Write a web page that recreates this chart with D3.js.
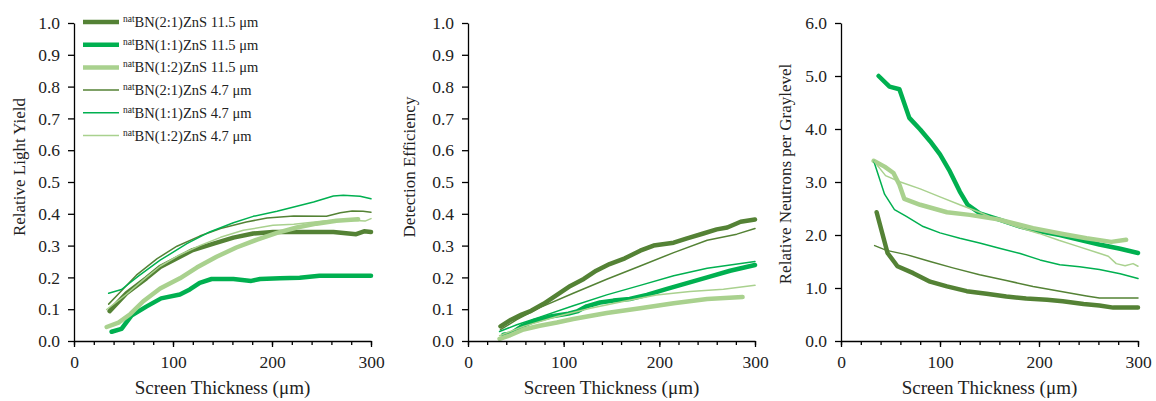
<!DOCTYPE html>
<html>
<head>
<meta charset="utf-8">
<script src="https://cdn.jsdelivr.net/npm/d3@7"></script>
<style>
  body { margin: 0; background: #fff; }
  svg { display: block; font-family: "Liberation Serif", "Times New Roman", serif; }
  .axis path, .axis line { stroke: #000; stroke-width: 1.3; }
  .axis text { font-size: 17.5px; fill: #222; font-family: "Liberation Serif", serif; }
  .title { font-size: 19px; fill: #222; }
  .ytitle { font-size: 17px; fill: #222; }
</style>
</head>
<body>
<svg id="chart" width="1156" height="401"></svg>
<script>
// series names and colours
var seriesNames = ["BN(2:1)ZnS 11.5 \u03bcm", "BN(1:1)ZnS 11.5 \u03bcm", "BN(1:2)ZnS 11.5 \u03bcm",
                   "BN(2:1)ZnS 4.7 \u03bcm", "BN(1:1)ZnS 4.7 \u03bcm", "BN(1:2)ZnS 4.7 \u03bcm"];
var seriesColors = ["#548235", "#00b050", "#a9d18e", "#548235", "#00b050", "#a9d18e"];
var seriesWidths = [4.5, 4.5, 4.5, 1.5, 1.5, 1.5];

var xTicksMajor = [0, 100, 200, 300];
var yTicksFraction = [0, 0.1, 0.2, 0.3, 0.4, 0.5, 0.6, 0.7, 0.8, 0.9, 1.0];
var yTicksNeutron = [0, 1, 2, 3, 4, 5, 6];

// Relative light yield  [thickness um, value]
var lyDark115 = [[36,0.094],[53,0.15],[73,0.197],[87,0.233],[105,0.262],[120,0.286],[141,0.306],[161,0.325],[181,0.338],[201,0.343],[222,0.343],[242,0.343],[262,0.343],[285,0.336],[293,0.345],[300,0.343]];
var lyBright115 = [[38,0.029],[48,0.038],[58,0.08],[73,0.108],[88,0.134],[107,0.146],[117,0.162],[127,0.183],[139,0.195],[161,0.195],[179,0.189],[188,0.195],[208,0.197],[228,0.199],[248,0.205],[269,0.205],[300,0.205]];
var lyLight115 = [[33,0.044],[45,0.058],[57,0.085],[70,0.125],[87,0.165],[107,0.197],[124,0.231],[144,0.265],[164,0.294],[185,0.319],[205,0.34],[225,0.357],[245,0.369],[265,0.378],[287,0.383]];
var lyDark47 = [[35,0.116],[47,0.155],[63,0.207],[84,0.259],[104,0.298],[127,0.33],[148,0.354],[174,0.374],[195,0.387],[222,0.393],[255,0.392],[269,0.403],[281,0.409],[292,0.408],[300,0.405]];
var lyBright47 = [[35,0.15],[48,0.162],[65,0.204],[87,0.254],[114,0.306],[137,0.343],[161,0.372],[181,0.392],[205,0.408],[225,0.424],[242,0.437],[262,0.456],[272,0.458],[289,0.455],[300,0.447]];
var lyLight47 = [[33,0.099],[53,0.147],[73,0.2],[87,0.235],[105,0.268],[127,0.3],[148,0.326],[171,0.348],[201,0.364],[222,0.367],[255,0.378],[279,0.38],[294,0.377],[300,0.385]];

// Detection efficiency
var deDark115 = [[34,0.046],[45,0.067],[56,0.083],[66,0.095],[79,0.117],[93,0.145],[107,0.173],[121,0.195],[134,0.221],[148,0.242],[164,0.26],[180,0.284],[194,0.3],[215,0.309],[229,0.323],[246,0.338],[260,0.351],[271,0.357],[285,0.375],[300,0.382]];
var deBright115 = [[37,0.02],[45,0.023],[56,0.046],[68,0.062],[86,0.077],[105,0.086],[114,0.093],[124,0.109],[138,0.121],[152,0.127],[169,0.132],[187,0.145],[208,0.164],[229,0.182],[250,0.2],[274,0.221],[300,0.239]];
var deLight115 = [[33,0.007],[44,0.018],[58,0.036],[75,0.048],[93,0.058],[110,0.069],[145,0.088],[180,0.103],[215,0.119],[250,0.132],[287,0.138]];
var deDark47 = [[34,0.036],[51,0.067],[75,0.105],[110,0.15],[145,0.194],[180,0.236],[215,0.278],[250,0.317],[281,0.336],[300,0.354]];
var deBright47 = [[33,0.03],[51,0.051],[75,0.075],[110,0.111],[145,0.145],[180,0.175],[215,0.205],[250,0.229],[300,0.25]];
var deLight47 = [[33,0.017],[58,0.046],[93,0.077],[128,0.103],[162,0.124],[197,0.145],[232,0.156],[267,0.163],[300,0.175]];

// Relative neutrons per graylevel
var rnDark115 = [[36,2.43],[47,1.66],[57,1.41],[73,1.28],[90,1.12],[107,1.03],[127,0.94],[147,0.89],[167,0.84],[187,0.8],[208,0.78],[224,0.75],[245,0.7],[261,0.67],[275,0.63],[300,0.63]];
var rnBright115 = [[38,5.0],[49,4.8],[59,4.75],[69,4.21],[80,3.99],[90,3.77],[100,3.52],[110,3.2],[120,2.82],[128,2.57],[140,2.41],[160,2.29],[181,2.16],[201,2.07],[221,2.0],[241,1.91],[261,1.82],[282,1.74],[300,1.66]];
var rnLight115 = [[33,3.4],[44,3.29],[53,3.17],[59,2.95],[64,2.68],[80,2.57],[107,2.43],[130,2.38],[160,2.29],[194,2.13],[224,2.02],[248,1.94],[273,1.87],[288,1.91]];
var rnDark47 = [[34,1.8],[46,1.71],[66,1.63],[90,1.5],[113,1.38],[140,1.25],[167,1.14],[194,1.03],[221,0.94],[248,0.85],[261,0.81],[300,0.81]];
var rnBright47 = [[33,3.4],[44,2.77],[54,2.48],[66,2.35],[83,2.16],[100,2.04],[120,1.94],[140,1.85],[160,1.75],[181,1.65],[201,1.53],[221,1.44],[241,1.4],[261,1.35],[282,1.27],[300,1.18]];
var rnLight47 = [[33,3.4],[45,3.12],[60,3.0],[80,2.87],[100,2.72],[120,2.57],[140,2.43],[160,2.27],[180,2.14],[200,2.03],[220,1.9],[240,1.78],[260,1.66],[270,1.6],[278,1.46],[287,1.42],[295,1.46],[300,1.41]];

var svg = d3.select("#chart");
var top0 = 23, bottom0 = 341;

function drawPanel(opt) {
    var x = d3.scaleLinear().domain([0, 300]).range([opt.left, opt.right]);
    var y = d3.scaleLinear().domain(opt.yDomain).range([bottom0, top0]);
    var g = svg.append("g");

    var line = d3.line()
        .x(function (d) { return x(d[0]); })
        .y(function (d) { return y(d[1]); });

    g.selectAll("path.series")
        .data(opt.series)
        .enter().append("path")
        .attr("class", "series")
        .attr("fill", "none")
        .attr("stroke-linejoin", "round")
        .attr("stroke-linecap", "round")
        .attr("stroke", function (d, i) { return seriesColors[i]; })
        .attr("stroke-width", function (d, i) { return seriesWidths[i]; })
        .attr("d", line);

    // minor x ticks every 20 um
    g.append("g")
        .attr("class", "axis")
        .attr("transform", "translate(0," + bottom0 + ")")
        .call(d3.axisBottom(x).tickValues(d3.range(0, 301, 20)).tickSize(4).tickFormat(""))
        .select(".domain").remove();
    g.append("g")
        .attr("class", "axis")
        .attr("transform", "translate(0," + bottom0 + ")")
        .call(d3.axisBottom(x).tickValues(xTicksMajor).tickSize(6).tickSizeOuter(0).tickPadding(9));

    g.append("g")
        .attr("class", "axis")
        .attr("transform", "translate(" + opt.left + ",0)")
        .call(d3.axisLeft(y).tickValues(opt.yTicks).tickSize(6).tickSizeOuter(0).tickPadding(8)
            .tickFormat(d3.format(".1f")));

    g.append("text")
        .attr("class", "title")
        .attr("x", (opt.left + opt.right) / 2)
        .attr("y", 394)
        .attr("text-anchor", "middle")
        .text("Screen Thickness (\u03bcm)");

    g.append("text")
        .attr("class", "ytitle")
        .attr("transform", "translate(" + opt.titleX + "," + opt.titleY + ") rotate(-90)")
        .attr("text-anchor", "middle")
        .text(opt.yTitle);
    return g;
}

var g1 = drawPanel({
    left: 74, right: 371, yDomain: [0, 1], yTicks: yTicksFraction,
    series: [lyDark115, lyBright115, lyLight115, lyDark47, lyBright47, lyLight47],
    yTitle: "Relative Light Yield", titleX: 25, titleY: 167
});
drawPanel({
    left: 468, right: 755, yDomain: [0, 1], yTicks: yTicksFraction,
    series: [deDark115, deBright115, deLight115, deDark47, deBright47, deLight47],
    yTitle: "Detection Efficiency", titleX: 415, titleY: 167
});
drawPanel({
    left: 841, right: 1138, yDomain: [0, 6], yTicks: yTicksNeutron,
    series: [rnDark115, rnBright115, rnLight115, rnDark47, rnBright47, rnLight47],
    yTitle: "Relative Neutrons per Graylevel", titleX: 791, titleY: 174
});

// legend
var legend = g1.append("g").attr("transform", "translate(83,22)");
var item = legend.selectAll("g.item")
    .data(seriesNames)
    .enter().append("g")
    .attr("class", "item")
    .attr("transform", function (d, i) { return "translate(0," + (i * 22.7) + ")"; });
item.append("line")
    .attr("x1", 0).attr("x2", 36)
    .attr("stroke", function (d, i) { return seriesColors[i]; })
    .attr("stroke-width", function (d, i) { return seriesWidths[i]; });
var lt = item.append("text")
    .attr("x", 40)
    .attr("y", 5)
    .style("font-size", "14.5px")
    .attr("fill", "#222");
lt.append("tspan")
    .attr("dy", -5)
    .style("font-size", "9.5px")
    .text("nat");
lt.append("tspan")
    .attr("dy", 5)
    .text(function (d) { return d; });
</script>
</body>
</html>
